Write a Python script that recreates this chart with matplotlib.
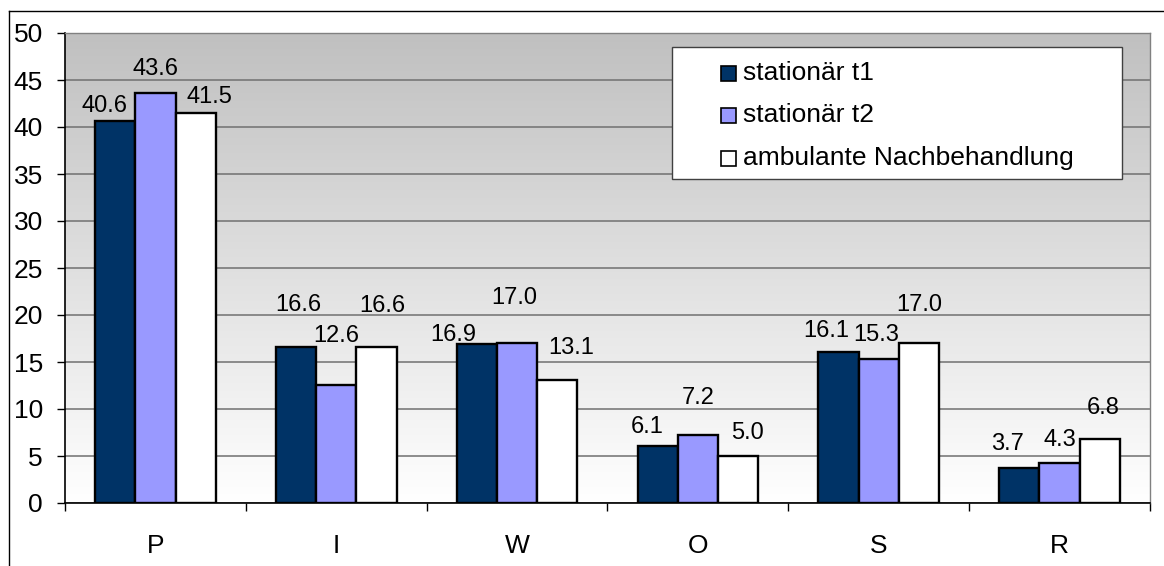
import numpy as np
import matplotlib
matplotlib.use("Agg")
import matplotlib.pyplot as plt
from matplotlib.patches import Rectangle
from matplotlib.lines import Line2D

plt.rcParams['font.family'] = ['Liberation Sans', 'DejaVu Sans']

# ---- data ----
categories = ["P", "I", "W", "O", "S", "R"]
series_names = ["stationär t1", "stationär t2", "ambulante Nachbehandlung"]
stationaer_t1 = [40.6, 16.6, 16.9, 6.1, 16.1, 3.7]
stationaer_t2 = [43.6, 12.6, 17.0, 7.2, 15.3, 4.3]
ambulant = [41.5, 16.6, 13.1, 5.0, 17.0, 6.8]
y_ticks = [0, 5, 10, 15, 20, 25, 30, 35, 40, 45, 50]

# ---- styling ----
colors = ["#003366", "#9999FF", "#FFFFFF"]
# label offsets relative to each bar top: (dx in category units, dy in value units)
label_dx = [
    [-0.057, 0.01, -0.129, -0.057, -0.068, -0.068],
    [0.0, 0.0, -0.014, 0.0, -0.014, 0.0],
    [0.079, 0.03, 0.079, 0.051, 0.0, 0.018],
]
label_dy = [
    [1.63, 4.46, 0.97, 1.99, 2.20, 2.58],
    [2.57, 5.17, 4.81, 3.97, 2.57, 2.40],
    [1.69, 4.36, 3.39, 2.45, 4.06, 3.30],
]

W, H = 1164, 566
FS = 19
FS_LABEL = 17


def fx(px):
    return px / W


def fy(py):
    return 1 - py / H


fig = plt.figure(figsize=(W / 100, H / 100), dpi=100)
fig.patch.set_facecolor("white")

left, right, top, bottom = 65, 1150, 33, 503
ax = fig.add_axes([fx(left), fy(bottom), fx(right) - fx(left), (bottom - top) / H])

# vertical grey-to-white background gradient (grey at the top)
grad = np.linspace(0, 1, 256).reshape(-1, 1)
top_c = np.array([0xC0, 0xC0, 0xC0]) / 255
bot_c = np.array([1.0, 1.0, 1.0])
img = top_c[None, None, :] * (1 - grad[:, :, None]) + bot_c[None, None, :] * grad[:, :, None]
ax.imshow(img, extent=[-0.5, 5.5, 0, 50], aspect="auto", zorder=0, origin="upper")

x = np.arange(len(categories))
bar_w = 1 / (3 + 1.5)
series = [stationaer_t1, stationaer_t2, ambulant]
for k, vals in enumerate(series):
    pos = x + (k - 1) * bar_w
    ax.bar(pos, vals, width=bar_w, color=colors[k], edgecolor="black",
           linewidth=1.7, zorder=3)
    for i, v in enumerate(vals):
        ax.text(pos[i] + label_dx[k][i], v + label_dy[k][i], f"{v:.1f}",
                ha="center", va="center", fontsize=FS_LABEL, color="black", zorder=4)

ax.set_xlim(-0.5, 5.5)
ax.set_ylim(0, 50)
ax.set_yticks(y_ticks)
ax.set_yticklabels([str(t) for t in y_ticks], fontsize=FS)
ax.yaxis.grid(True, color="#707070", linewidth=1.1, zorder=1)
ax.set_axisbelow(True)

ax.set_xticks(x)
ax.set_xticklabels(categories, fontsize=FS)
ax.set_xticks(np.arange(-0.5, 6.0, 1.0), minor=True)
ax.tick_params(axis="x", which="major", length=0, pad=22)
ax.tick_params(axis="x", which="minor", length=6, width=1, color="black", direction="out")
ax.tick_params(axis="y", which="major", length=6, width=1, color="black", direction="out", pad=10)

for s in ["top", "right"]:
    ax.spines[s].set_color("#808080")
    ax.spines[s].set_linewidth(1)
for s in ["left", "bottom"]:
    ax.spines[s].set_color("black")
    ax.spines[s].set_linewidth(1.2)

# legend box
fig.add_artist(Rectangle((fx(672), fy(179)), fx(1122) - fx(672), (179 - 47) / H,
                         transform=fig.transFigure, facecolor="white",
                         edgecolor="#404040", linewidth=1.0, zorder=5))
rows = [73, 115, 158]
sq = 15
for k, name in enumerate(series_names):
    cy = rows[k]
    fig.add_artist(Rectangle((fx(721), fy(cy + sq / 2)), sq / W, sq / H,
                             transform=fig.transFigure, facecolor=colors[k],
                             edgecolor="black", linewidth=1.2, zorder=6))
    fig.text(fx(743), fy(cy), name, fontsize=FS, va="center", ha="left", zorder=7)

# outer chart frame
fig.add_artist(Line2D([fx(8.5), 1.0], [fy(10.5), fy(10.5)], transform=fig.transFigure,
                      color="black", linewidth=1.0))
fig.add_artist(Line2D([fx(8.5), fx(8.5)], [fy(10.5), 0.0], transform=fig.transFigure,
                      color="black", linewidth=1.0))

fig.savefig("out.png", dpi=100)
